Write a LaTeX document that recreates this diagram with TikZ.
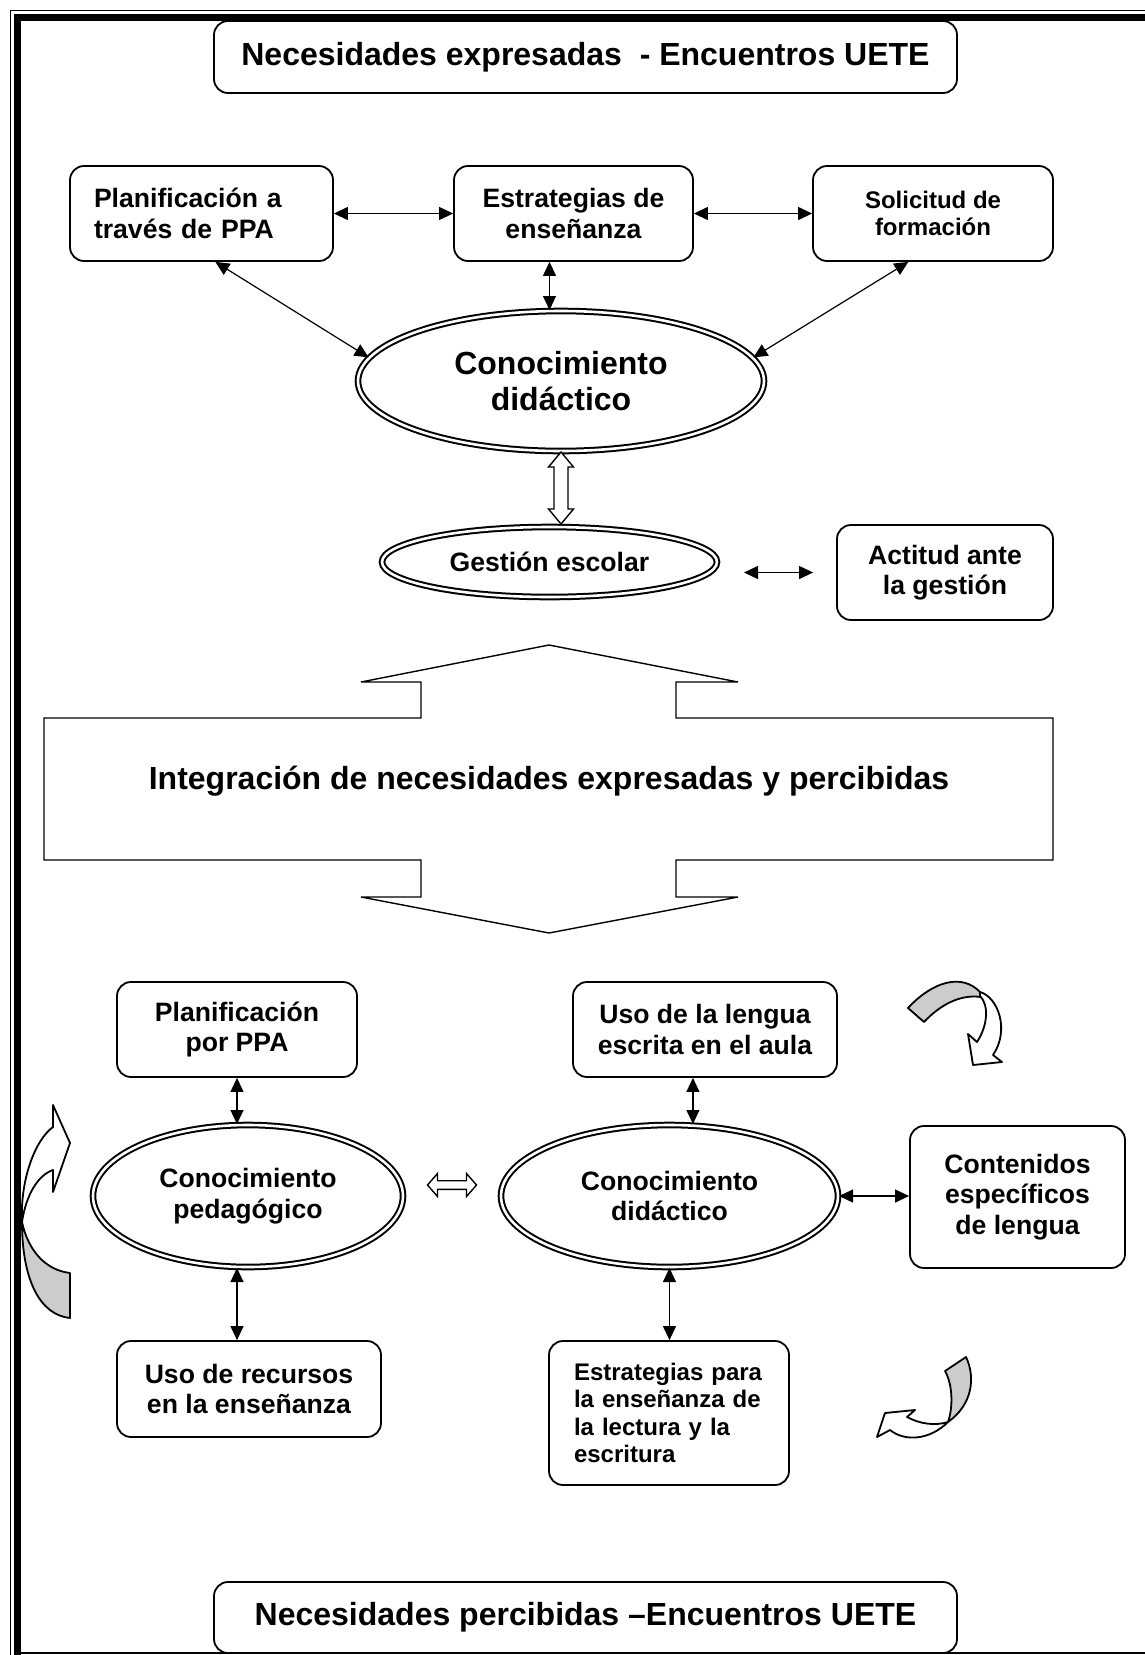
\documentclass[tikz,border=0pt]{standalone}
\usepackage{fontspec}
\setmainfont{Liberation Sans}
\usetikzlibrary{arrows.meta, calc, shapes.geometric}

\begin{document}
\begin{tikzpicture}[x=0.5pt, y=-0.5pt,
    box/.style={draw, line width=0.9pt, rounded corners=7pt, align=center, inner sep=0pt},
    oval/.style={draw, ellipse, double, double distance=1.3pt, line width=1pt, align=center, inner sep=0pt},
    link/.style={{Triangle[length=7pt,width=6.5pt]}-{Triangle[length=7pt,width=6.5pt]}, line width=0.6pt},
    hollow/.style={draw, line width=0.7pt, fill=white, line join=miter},
    twist/.style={draw, line width=0.9pt, line join=round},
    big/.style={font=\fontsize{16}{18.4}\selectfont\bfseries},
    mid/.style={font=\fontsize{13.3}{15.3}\selectfont\bfseries},
    small/.style={font=\fontsize{12}{13.6}\selectfont\bfseries}]
    \useasboundingbox (0,0) rectangle (1145,1655);
    % page frame
    \draw[line width=0.5pt] (10,1655) -- (10,10) -- (1145,10);
    \draw[line width=3.5pt] (17,1655) -- (17,17) -- (1145,17);
    \draw[line width=0.6pt] (17,1653) -- (1145,1653);
    % expressed needs
    \node[box, big, minimum width=371.5pt, minimum height=36pt] (top) at (585.5,57) {Necesidades expresadas\ \ - Encuentros UETE};
    \node[box, mid, text width=107.5pt, inner xsep=12pt, align=left, minimum height=47.5pt] (plan1) at (201.5,213.5) {Planificación a\\través de PPA};
    \node[box, mid, minimum width=119.5pt, minimum height=47.5pt] (estr1) at (573.5,213.5) {Estrategias de\\enseñanza};
    \node[box, small, minimum width=120pt, minimum height=47.5pt] (solic) at (933,213.5) {Solicitud de\\formación};
    \node[oval, big, minimum width=203pt, minimum height=70pt] (conoc1) at (561,381) {Conocimiento\\didáctico};
    \node[oval, mid, minimum width=167.5pt, minimum height=35pt] (gest) at (549.5,562) {Gestión escolar};
    \node[box, mid, minimum width=108pt, minimum height=47.5pt] (actit) at (945,572.5) {Actitud ante\\la gestión};
    \draw[link] (plan1) -- (estr1);
    \draw[link] (estr1) -- (solic);
    \draw[link] (estr1.south -| gest.north) -- (conoc1.north -| gest.north);
    \draw[link] (plan1.-74) -- (conoc1.173);
    \draw[link] (solic.-117) -- (conoc1.7);
    \draw[link, shorten <=13pt, shorten >=11.5pt] (gest.east |- actit.west) -- (actit.west);
    \draw[hollow] (conoc1.south) -- ++(12.5,15) -- ++(-5.5,0) -- ++(0,42) -- ++(5.5,0) -- ++(-12.5,15)
        -- ++(-12.5,-15) -- ++(5.5,0) -- ++(0,-42) -- ++(-5.5,0) -- cycle;
    % integration arrow
    \draw[hollow] (549,645) -- (738,682) -- (676,682) -- (676,718) -- (1053,718) -- (1053,860) -- (676,860)
        -- (676,897) -- (738,897) -- (549,933) -- (361,897) -- (421,897) -- (421,860) -- (44,860)
        -- (44,718) -- (421,718) -- (421,682) -- (361,682) -- cycle;
    \node[big] (integ) at (549,781) {Integración de necesidades expresadas y percibidas};
    % perceived needs
    \node[box, mid, minimum width=120pt, minimum height=47.5pt] (plan2) at (237,1029.5) {Planificación\\por PPA};
    \node[box, mid, minimum width=132pt, minimum height=47.5pt] (lengua) at (705,1029.5) {Uso de la lengua\\escrita en el aula};
    \node[oval, mid, minimum width=155pt, minimum height=71pt] (ped) at (248,1196) {Conocimiento\\pedagógico};
    \node[oval, mid, minimum width=168.5pt, minimum height=71pt] (did2) at (669.5,1196) {Conocimiento\\didáctico};
    \node[box, mid, minimum width=107.5pt, minimum height=71pt] (cont) at (1017.5,1197) {Contenidos\\específicos\\de lengua};
    \node[box, mid, minimum width=132pt, minimum height=48pt] (rec) at (249,1389) {Uso de recursos\\en la enseñanza};
    \node[box, small, text width=95pt, inner xsep=12.5pt, align=left, minimum height=72pt] (estr2) at (669,1413) {Estrategias para\\la enseñanza de\\la lectura y la\\escritura};
    \draw[link] (plan2.south) -- (plan2.south |- ped.north);
    \draw[link] (lengua.-104) -- (lengua.-104 |- did2.north);
    \draw[link] (plan2.south |- ped.south) -- (plan2.south |- rec.north);
    \draw[link] (did2.south) -- (did2.south |- estr2.north);
    \draw[link] (did2.east) -- (did2.east -| cont.west);
    \coordinate (pd) at ($(ped.east)!0.5!(did2.west)+(0,-11)$);
    \draw[hollow] (pd) ++(-24.5,0) -- ++(10,-11.5) -- ++(0,7.2) -- ++(29,0) -- ++(0,-7.2) -- ++(10,11.5)
        -- ++(-10,11.5) -- ++(0,-7.2) -- ++(-29,0) -- ++(0,7.2) -- cycle;
    % curved arrows
    \filldraw[twist, fill=black!20] (908,1008) .. controls (932,982) and (962,972) .. (981,993) -- (981,997)
        .. controls (960,994) and (940,1005) .. (924,1022) -- cycle;
    \filldraw[twist, fill=white] (980,992) .. controls (998,997) and (1010,1030) .. (993,1055) -- (1002,1062)
        -- (973,1065) -- (968,1034) -- (977,1042) .. controls (988,1025) and (989,1005) .. (980,996) -- cycle;
    \filldraw[twist, fill=black!20] (70,1273) -- (70,1318) .. controls (40,1315) and (22,1280) .. (22,1222)
        .. controls (28,1250) and (45,1270) .. (70,1273) -- cycle;
    \filldraw[twist, fill=white] (22,1222) .. controls (20,1180) and (35,1140) .. (53,1127) -- (53,1105)
        -- (70,1143) -- (53,1192) -- (53,1170) .. controls (38,1175) and (26,1195) .. (22,1222) -- cycle;
    \filldraw[twist, fill=white] (948,1422) .. controls (930,1440) and (905,1442) .. (890,1430) -- (877,1437)
        -- (885,1413) -- (915,1410) -- (907,1417) .. controls (920,1424) and (935,1426) .. (948,1422) -- cycle;
    \filldraw[twist, fill=black!20] (945,1371) -- (966,1357) .. controls (976,1378) and (972,1405) .. (948,1422)
        .. controls (953,1408) and (953,1385) .. (945,1371) -- cycle;
    % bottom banner
    \node[box, big, minimum width=371.5pt, minimum height=35.5pt] (bot) at (585.5,1617.5) {Necesidades percibidas –Encuentros UETE};
\end{tikzpicture}
\end{document}
